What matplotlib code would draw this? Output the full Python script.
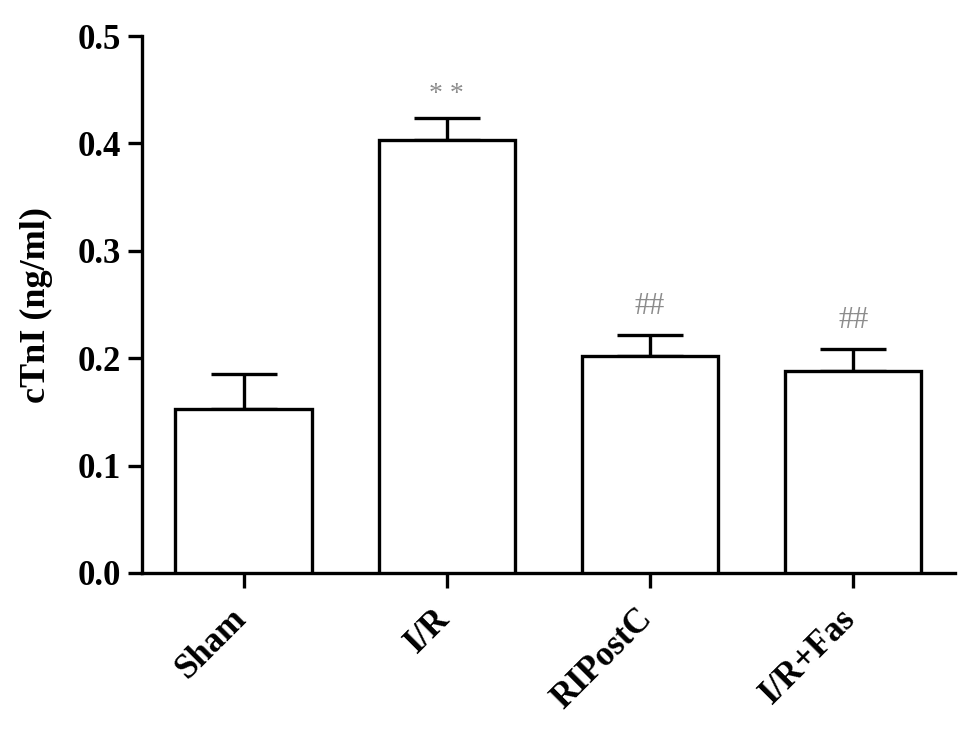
import matplotlib
matplotlib.use("Agg")
import matplotlib.pyplot as plt
from matplotlib.transforms import ScaledTranslation

categories = ["Sham", "I/R", "RIPostC", "I/R+Fas"]
values = [0.153, 0.403, 0.202, 0.188]
errors = [0.032, 0.021, 0.020, 0.021]
marks = ["", "**", "##", "##"]
yticks = [0.0, 0.1, 0.2, 0.3, 0.4, 0.5]

plt.rcParams['font.family'] = ['Liberation Serif', 'DejaVu Serif']

fig = plt.figure(figsize=(9.69, 7.29), dpi=100)
ax = fig.add_axes([0.1465, 0.214, 0.839, 0.7366])

x = list(range(len(categories)))
ax.bar(x, values, width=0.67, color='white', edgecolor='black', linewidth=2.4, zorder=3)
ax.errorbar(x, values, yerr=[[0]*len(values), errors], fmt='none', ecolor='black',
            elinewidth=2.4, capsize=24, capthick=2.4, zorder=2)

for xi, v, e, m in zip(x, values, errors, marks):
    if m:
        shown = m.replace("**", "* *")
        off = 17 if m == "**" else 20
        fs = 20 if m == "**" else 22
        ax.annotate(shown, (xi, v + e), xytext=(0, off), textcoords='offset points',
                    ha='center', va='center', fontsize=fs, color='#8c8c8c')

ax.set_xlim(-0.5, 3.5)
ax.set_ylim(0, 0.5)
ax.set_yticks(yticks)
ax.set_yticklabels([f"{t:.1f}" for t in yticks])
ax.set_xticks(x)
ax.set_xticklabels(categories, rotation=45, ha='right', va='top', rotation_mode='anchor')

for s in ['top', 'right']:
    ax.spines[s].set_visible(False)
for s in ['left', 'bottom']:
    ax.spines[s].set_linewidth(2.4)

ax.tick_params(axis='y', direction='out', length=10, width=2.4, labelsize=25, pad=5)
ax.tick_params(axis='x', direction='out', length=11, width=2.4, labelsize=25, pad=10)
shift = ScaledTranslation(-10 / 72, 0, fig.dpi_scale_trans)
for lab in ax.get_xticklabels():
    lab.set_transform(lab.get_transform() + shift)
for lab in ax.get_xticklabels() + ax.get_yticklabels():
    lab.set_fontweight('bold')

ax.set_ylabel("cTnI (ng/ml)", fontsize=26, fontweight='bold', labelpad=18)

fig.savefig("out.png", dpi=100, facecolor='white')
